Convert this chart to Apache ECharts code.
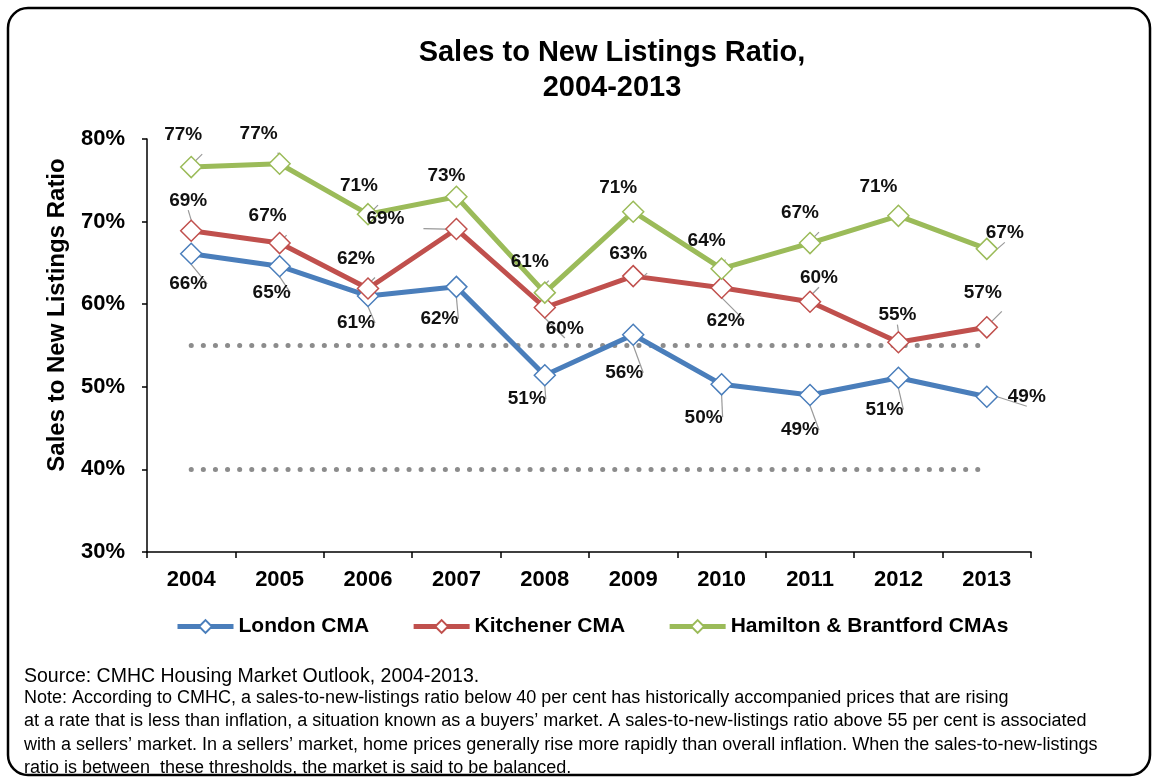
<!DOCTYPE html>
<html>
<head>
<meta charset="utf-8">
<script src="https://cdn.jsdelivr.net/npm/echarts@6/dist/echarts.min.js"></script>
<style>
  html, body { margin: 0; padding: 0; background: #fff; }
  #chart { width: 1156px; height: 778px; }
</style>
</head>
<body>
<div id="chart"></div>
<script>
// chart values
var years = ['2004', '2005', '2006', '2007', '2008', '2009', '2010', '2011', '2012', '2013'];
var london = [66.1, 64.6, 61.0, 62.1, 51.4, 56.3, 50.3, 49.0, 51.1, 48.8];
var kitchener = [68.9, 67.4, 61.9, 69.1, 59.6, 63.4, 62.0, 60.3, 55.4, 57.2];
var hamilton = [76.6, 77.0, 70.9, 73.0, 61.4, 71.2, 64.3, 67.4, 70.7, 66.7];
var sellersLine = [55, 55, 55, 55, 55, 55, 55, 55, 55, 55];
var buyersLine = [40, 40, 40, 40, 40, 40, 40, 40, 40, 40];
var yTicks = { min: 30, max: 80, interval: 10 };

// where each value label sits relative to its marker (layout only)
var londonOffsets = [[-3, 30], [-8, 27], [-12, 27], [-17, 32], [-18, 24], [-9, 38], [-18, 33], [-10, 35], [-14, 32], [40, 0]];
var kitchenerOffsets = [[-3, -30], [-12, -27], [-12, -30], [-71, -10], [20, 21], [-5, -22], [4, 33], [9, -24], [-1, -27], [-4, -35]];
var hamiltonOffsets = [[-8, -32], [-21, -30], [-9, -28], [-10, -21], [-15, -31], [-15, -24], [-15, -28], [-10, -30], [-20, -29], [18, -16]];

var FONT = 'Liberation Sans, Arial, sans-serif';

function withLabels(values, offsets) {
    return values.map(function (v, i) {
        return { value: v, label: { offset: offsets[i] } };
    });
}

function mainSeries(name, color, values, offsets) {
    return {
        name: name,
        type: 'line',
        data: withLabels(values, offsets),
        symbol: 'diamond',
        symbolSize: 21,
        z: 3,
        lineStyle: { color: color, width: 5 },
        itemStyle: { color: '#fff', borderColor: color, borderWidth: 1.5 },
        label: {
            show: true,
            position: 'inside',
            formatter: function (p) { return Math.round(p.value) + '%'; },
            color: '#111',
            fontFamily: FONT,
            fontWeight: 'bold',
            fontSize: 19
        },
        labelLine: { show: true, lineStyle: { color: '#999', width: 1.2 } },
        emphasis: { disabled: true }
    };
}

function thresholdSeries(name, values) {
    return {
        name: name,
        type: 'line',
        data: values,
        symbol: 'none',
        silent: true,
        z: 1,
        lineStyle: { color: '#8c8c8c', width: 5, type: [0.1, 12], cap: 'round' }
    };
}

var myChart = echarts.init(document.getElementById('chart'));
myChart.setOption({
    animation: false,
    title: {
        text: 'Sales to New Listings Ratio,\n2004-2013',
        left: 607,
        top: 30,
        textAlign: 'center',
        textStyle: { fontFamily: FONT, fontSize: 29, fontWeight: 'bold', color: '#000', lineHeight: 35 }
    },
    legend: {
        data: ['London CMA', 'Kitchener CMA', 'Hamilton & Brantford CMAs'],
        left: 170,
        top: 611,
        itemWidth: 56,
        itemHeight: 16,
        itemGap: 42,
        lineStyle: { width: 5 },
        textStyle: { fontFamily: FONT, fontSize: 21, fontWeight: 'bold', color: '#000' }
    },
    grid: { left: 147, right: 125, top: 139, bottom: 226, containLabel: false },
    xAxis: {
        type: 'category',
        data: years,
        boundaryGap: true,
        axisLine: { lineStyle: { color: '#000', width: 1.5 } },
        axisTick: { show: true, length: 6, lineStyle: { color: '#000', width: 1.5 } },
        axisLabel: { color: '#000', fontFamily: FONT, fontSize: 22, fontWeight: 'bold', margin: 17 }
    },
    yAxis: {
        type: 'value',
        min: yTicks.min,
        max: yTicks.max,
        interval: yTicks.interval,
        axisLine: { show: true, lineStyle: { color: '#000', width: 1.5 } },
        axisTick: { show: true, length: 5, lineStyle: { color: '#000', width: 1.5 } },
        splitLine: { show: false },
        axisLabel: { color: '#000', fontFamily: FONT, fontSize: 22, fontWeight: 'bold', margin: 22, formatter: '{value}%' }
    },
    series: [
        thresholdSeries('sellers', sellersLine),
        thresholdSeries('buyers', buyersLine),
        mainSeries('London CMA', '#4a7ebb', london, londonOffsets),
        mainSeries('Kitchener CMA', '#c0504d', kitchener, kitchenerOffsets),
        mainSeries('Hamilton & Brantford CMAs', '#9bbb59', hamilton, hamiltonOffsets)
    ],
    graphic: [
        {
            type: 'rect',
            shape: { x: 8, y: 8, width: 1142, height: 767, r: 20 },
            style: { fill: 'none', stroke: '#000', lineWidth: 2.5 },
            silent: true
        },
        {
            // y axis title sits a bit above the axis middle in the original
            type: 'text', x: 57, y: 315, rotation: Math.PI / 2,
            style: {
                text: 'Sales to New Listings Ratio',
                font: 'bold 24px ' + FONT,
                fill: '#000',
                align: 'center',
                verticalAlign: 'middle'
            }
        },
        {
            type: 'text', left: 24, top: 667,
            style: { text: 'Source: CMHC Housing Market Outlook, 2004-2013.', font: '19.5px ' + FONT, fill: '#000' }
        },
        {
            type: 'text', left: 24, top: 686,
            style: {
                text: 'Note: According to CMHC, a sales-to-new-listings ratio below 40 per cent has historically accompanied prices that are rising\n' +
                    'at a rate that is less than inflation, a situation known as a buyers\u2019 market. A sales-to-new-listings ratio above 55 per cent is associated\n' +
                    'with a sellers\u2019 market. In a sellers\u2019 market, home prices generally rise more rapidly than overall inflation. When the sales-to-new-listings\n' +
                    'ratio is between  these thresholds, the market is said to be balanced.',
                font: '18px ' + FONT,
                lineHeight: 23.5,
                fill: '#000'
            }
        }
    ]
});
window.addEventListener('resize', function () { myChart.resize(); });
</script>
</body>
</html>
